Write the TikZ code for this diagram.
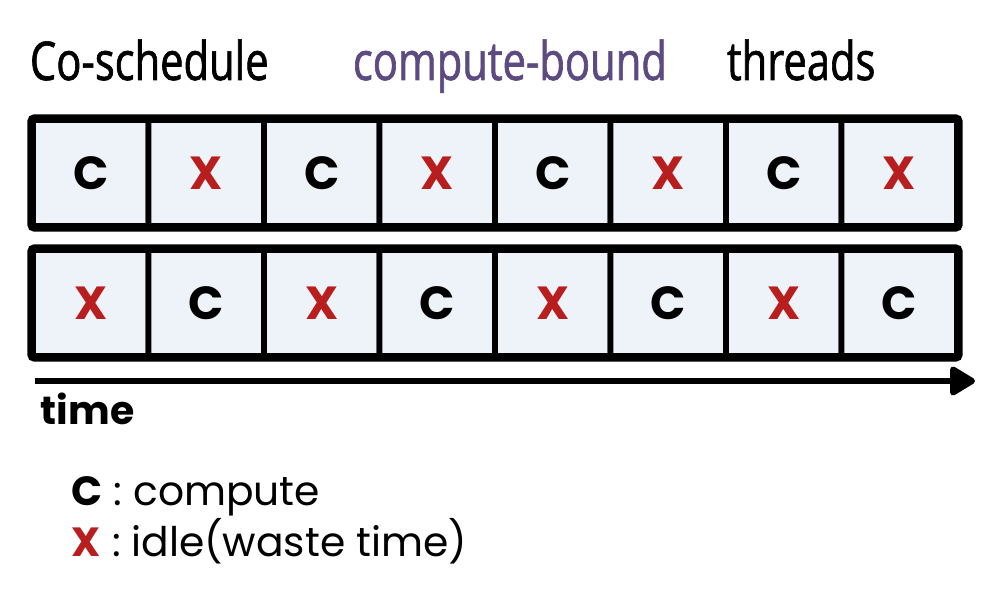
\documentclass[tikz,border=0pt]{standalone}
\usepackage{fontspec}
\setmainfont{Poppins}
\newfontfamily\handfont[FakeStretch=0.78,FakeBold=1.2]{Open Sans}
\usetikzlibrary{arrows.meta}
\definecolor{cellblue}{RGB}{238,243,249}
\definecolor{xred}{RGB}{185,30,30}
\definecolor{hpurple}{RGB}{92,74,128}

\tikzset{
  cell/.style={draw, line width=0.14cm, fill=cellblue, rounded corners=1pt,
    minimum width=2.8875cm, minimum height=2.65cm, inner sep=0pt,
    font=\bfseries\fontsize{33}{36}\selectfont},
  frame/.style={line width=0.14cm, rounded corners=0.1cm},
  timearrow/.style={line width=0.15cm, -{Triangle[length=0.7cm,width=0.8cm,round]}},
  hand/.style={anchor=base west, font=\handfont\fontsize{38}{40}\selectfont},
  legend/.style={anchor=base west, font=\fontsize{29}{32}\selectfont}
}

\begin{document}
\begin{tikzpicture}[x=0.025cm,y=-0.025cm]
  \useasboundingbox (0,0) rectangle (1002,590);
  % title
  \node[hand] (ttl1) at (25,80) {Co-schedule};
  \node[hand, text=hpurple] (ttl2) at (348,80) {compute-bound};
  \node[hand] (ttl3) at (722,80) {threads};
  % the two threads
  \foreach \l/\c [count=\i] in {C/black,X/xred,C/black,X/xred,C/black,X/xred,C/black,X/xred}
    \node[cell, text=\c] (ra\i) at ({90.75+115.5*(\i-1)},173) {\l};
  \foreach \l/\c [count=\i] in {X/xred,C/black,X/xred,C/black,X/xred,C/black,X/xred,C/black}
    \node[cell, text=\c] (rb\i) at ({90.75+115.5*(\i-1)},303) {\l};
  \draw[frame] (ra1.north west) rectangle (ra8.south east);
  \draw[frame] (rb1.north west) rectangle (rb8.south east);
  % time axis
  \coordinate (tstart) at (35,381);
  \coordinate (tend) at (975,381);
  \draw[timearrow] (tstart) -- (tend);
  \node[anchor=base west, font=\bfseries\fontsize{28}{30}\selectfont] (tlbl) at (36,425) {time};
  % legend
  \node[legend] (legc) at (67,505) {\textbf{C} : compute};
  \node[legend] (legx) at (67,557) {\textcolor{xred}{\textbf{X}} : idle(waste time)};
\end{tikzpicture}
\end{document}
